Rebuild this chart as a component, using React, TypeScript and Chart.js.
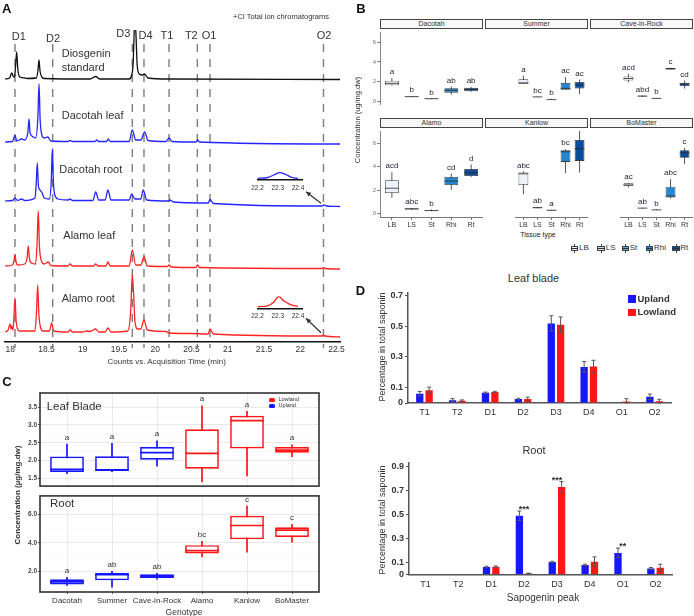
import React, { useEffect, useRef } from 'react';
import { Chart, registerables } from 'chart.js';
Chart.register(...registerables);

const FONT = '"Liberation Sans", Arial, Helvetica, sans-serif';

// ================= Panel A data =================
const peakLabelsA = ['D1', 'D2', 'D3', 'D4', 'T1', 'T2', 'O1', 'O2'];
const peakTimesA = [18.065, 18.585, 19.683, 19.844, 20.19, 20.58, 20.755, 22.32];
const xTicksA = [18, 18.5, 19, 19.5, 20, 20.5, 21, 21.5, 22, 22.5];
const traceNamesA = ['Diosgenin standard', 'Dacotah leaf', 'Dacotah root', 'Alamo leaf', 'Alamo root'];
const traceOffsetsA = [263, 200, 141, 76, 10];
const traceColorsA = ['#111111', '#2424ff', '#2424ff', '#ff2424', '#ff2424'];
const diosgeninStd = [
  [17.93, 0], [17.99, 1], [18.02, 6], [18.045, 2], [18.06, 3], [18.072, 12], [18.088, 27], [18.104, 10],
  [18.13, 2], [18.2, 1], [18.23, 0.5], [18.36, 1], [18.382, 9], [18.396, 19], [18.41, 8], [18.44, 1.5],
  [18.47, 0.5], [19.1, 0], [19.18, 2.5], [19.23, 0], [19.64, 0], [19.675, 4], [19.695, 16], [19.708, 45],
  [19.72, 62], [19.735, 42], [19.75, 14], [19.78, 5], [19.82, 4], [19.85, 5], [19.9, 1], [20.2, 0], [22.55, -0.5],
];
const dacotahLeaf = [
  [17.93, 0], [18.03, 0.5], [18.065, 6.5], [18.09, 1], [18.157, 3], [18.2, 2], [18.243, 10], [18.258, 23],
  [18.273, 9], [18.3, 6], [18.317, 5], [18.35, 4], [18.38, 24], [18.396, 58], [18.412, 22], [18.44, 6],
  [18.47, 4], [18.516, 5], [18.56, 1], [18.8, 0.5], [18.823, 1.5], [18.86, 0.5], [19.17, 0.5], [19.19, 2],
  [19.22, 0.5], [19.33, 0.5], [19.35, 3], [19.38, 0.5], [19.64, 0.5], [19.683, 12], [19.73, 2], [19.8, 2],
  [19.854, 10], [19.9, 1.5], [20.15, 0.5], [20.19, 4], [20.23, 0.5], [20.56, 0], [20.585, 2], [20.61, 0], [22.55, -2],
];
const dacotahRoot = [
  [17.93, 0], [18.03, 0.5], [18.065, 3], [18.1, 0.5], [18.157, 2], [18.2, 0.5], [18.34, 3], [18.357, 16],
  [18.372, 38], [18.388, 15], [18.41, 11], [18.433, 9], [18.47, 3], [18.54, 2], [18.565, 20], [18.58, 52],
  [18.595, 18], [18.62, 5], [18.66, 2], [18.8, 1], [18.823, 2], [18.86, 0.5], [19.14, 0.5], [19.178, 9],
  [19.22, 1], [19.31, 1], [19.345, 11], [19.39, 1], [19.64, 1], [19.674, 7], [19.72, 2], [19.8, 2],
  [19.834, 11], [19.88, 1], [20.19, 0], [20.2, 1], [20.25, -1], [20.73, -2], [20.755, 1.5], [20.8, -2.5],
  [22.3, -5], [22.33, -4], [22.36, -5], [22.55, -5.5],
];
const alamoLeaf = [
  [17.93, 0], [18.03, 1], [18.05, 5], [18.065, 11], [18.08, 4], [18.1, 1], [18.2, 2], [18.233, 9],
  [18.248, 20], [18.263, 8], [18.29, 3], [18.35, 2], [18.37, 24], [18.386, 55], [18.402, 20], [18.43, 5],
  [18.47, 2], [18.524, 4], [18.56, 0.5], [18.8, 0], [18.823, 2], [18.86, 0], [19.15, 0], [19.178, 2],
  [19.21, 0], [19.32, 0], [19.345, 4], [19.38, 0], [19.64, 0], [19.683, 16], [19.73, 1], [19.8, 1],
  [19.844, 9], [19.89, 0], [20.17, -0.5], [20.19, 1], [20.22, -1], [20.56, -1.5], [20.585, 1], [20.61, -1.5],
  [22.3, -2.5], [22.32, -1.5], [22.34, -2.5], [22.55, -3],
];
const alamoRoot = [
  [17.93, 0], [17.97, 2], [17.996, 8], [18.01, 3], [18.02, 6], [18.035, 2], [18.05, 14], [18.065, 34],
  [18.08, 12], [18.1, 3], [18.13, 1], [18.34, 1], [18.362, 20], [18.378, 47], [18.394, 18], [18.42, 4],
  [18.45, 1], [18.54, 1], [18.571, 9], [18.6, 1], [18.8, 0], [18.823, 2], [18.86, 0], [19.0, 0],
  [19.05, 1], [19.1, 0.5], [19.178, 3], [19.22, 0], [19.31, 0], [19.345, 4], [19.39, 0], [19.62, 1],
  [19.66, 20], [19.683, 57], [19.7, 40], [19.72, 10], [19.76, 3], [19.8, 3], [19.844, 12], [19.89, 2],
  [20.15, 0.5], [20.19, -1], [20.5, -1.5], [20.73, -2], [20.755, 3], [20.8, -2], [22.3, -4], [22.32, -3],
  [22.34, -4], [22.55, -5],
];
const insetTicksA = [22.2, 22.3, 22.4];
const insetDacotahRoot = [[22.2, 1.7], [22.25, 2.5], [22.28, 5], [22.31, 7.3], [22.34, 5.5], [22.37, 2.5], [22.4, 1.7]];
const insetAlamoRoot = [[22.2, 1.6], [22.25, 2.5], [22.28, 6], [22.305, 11.6], [22.33, 7.5], [22.36, 4], [22.4, 1.8]];
const insetArrowsA = [[22.286, 138.7, 22.079, 150.3], [22.286, 9.3, 22.079, 23.7]];
const dashTopA = 298;

// ================= Panel B data =================
const tissuesB = ['LB', 'LS', 'St', 'Rhi', 'Rt'];
const tissueColorsB = ['#eef1fa', '#c6dbef', '#5aa9dd', '#2586cf', '#0a4c9c'];
const genotypesB = ['Dacotah', 'Summer', 'Cave-in-Rock', 'Alamo', 'Kanlow', 'BoMaster'];
const yTicksB = [0, 2, 4, 6];
const dacotahB = [[1.58, 1.62, 1.81, 2.08, 2.35], [0.4, 0.42, 0.45, 0.47, 0.5], [0.2, 0.22, 0.24, 0.25, 0.27], [0.65, 0.86, 1.1, 1.32, 1.5], [0.95, 1.0, 1.18, 1.35, 1.45]];
const summerB = [[1.62, 1.62, 1.73, 2.08, 2.43], [0.36, 0.37, 0.38, 0.4, 0.41], [0.1, 0.11, 0.12, 0.13, 0.2], [1.08, 1.08, 1.2, 1.73, 2.27], [0.65, 1.19, 1.54, 1.81, 2.05]];
const caveB = [[1.78, 1.95, 2.15, 2.35, 2.6], [0.38, 0.42, 0.46, 0.5, 0.52], [0.22, 0.23, 0.24, 0.26, 0.28], [3.0, 3.02, 3.08, 3.15, 3.18], [1.19, 1.41, 1.6, 1.73, 1.95]];
const alamoB = [[1.34, 1.75, 2.16, 2.85, 3.53], [0.33, 0.36, 0.38, 0.45, 0.47], [0.2, 0.23, 0.25, 0.27, 0.35], [2.03, 2.44, 2.77, 3.12, 3.4], [3.12, 3.2, 3.48, 3.8, 4.2]];
const kanlowB = [[1.56, 2.3, 3.2, 3.31, 3.4], [0.4, 0.42, 0.45, 0.5, 0.52], [0.22, 0.23, 0.25, 0.27, 0.28], [3.26, 4.17, 4.99, 5.12, 5.2], [3.31, 4.25, 5.23, 5.94, 6.68]];
const boMasterB = [[2.1, 2.22, 2.3, 2.44, 2.45], [0.38, 0.4, 0.42, 0.43, 0.45], [0.25, 0.26, 0.28, 0.29, 0.32], [1.2, 1.29, 1.4, 2.16, 2.77], [4.0, 4.5, 4.9, 5.12, 5.3]];
const lettersDacotahB = ['a', 'b', 'b', 'ab', 'ab'];
const lettersSummerB = ['a', 'bc', 'b', 'ac', 'ac'];
const lettersCaveB = ['acd', 'abd', 'b', 'c', 'cd'];
const lettersAlamoB = ['acd', 'abc', 'b', 'cd', 'd'];
const lettersKanlowB = ['abc', 'ab', 'a', 'bc', 'c'];
const lettersBoMasterB = ['ac', 'ab', 'b', 'abc', 'c'];

// ================= Panel C data =================
const genotypesC = ['Dacotah', 'Summer', 'Cave-in-Rock', 'Alamo', 'Kanlow', 'BoMaster'];
const ecotypeC = ['Upland', 'Upland', 'Upland', 'Lowland', 'Lowland', 'Lowland'];
const leafBladeC = [[1.62, 1.68, 1.75, 2.11, 2.47], [1.68, 1.71, 1.73, 2.12, 2.49], [1.83, 2.02, 2.22, 2.38, 2.56], [1.39, 1.77, 2.2, 2.88, 3.55], [1.56, 2.34, 3.12, 3.26, 3.39], [2.1, 2.22, 2.29, 2.38, 2.45]];
const rootC = [[0.99, 1.08, 1.26, 1.45, 1.61], [0.87, 1.38, 1.77, 1.88, 2.02], [1.43, 1.54, 1.66, 1.79, 1.88], [2.99, 3.26, 3.45, 3.84, 4.14], [3.33, 4.26, 5.22, 5.91, 6.6], [4.02, 4.41, 4.9, 5.1, 5.33]];
const lettersLeafC = ['a', 'a', 'a', 'a', 'a', 'a'];
const lettersRootC = ['a', 'ab', 'ab', 'bc', 'c', 'c'];
const leafMajorC = [1.5, 2.0, 2.5, 3.0, 3.5];
const leafMinorC = [1.75, 2.25, 2.75, 3.25, 3.75];
const rootMajorC = [2, 4, 6];
const rootMinorC = [1, 3, 5, 7];

// ================= Panel D data =================
const peaksD = ['T1', 'T2', 'D1', 'D2', 'D3', 'D4', 'O1', 'O2'];
const uplandLeafD = [0.06, 0.018, 0.067, 0.026, 0.518, 0.235, 0, 0.04];
const uplandLeafErrD = [0.015, 0.01, 0.004, 0.005, 0.05, 0.035, 0, 0.018];
const lowlandLeafD = [0.083, 0.015, 0.072, 0.026, 0.51, 0.238, 0.01, 0.012];
const lowlandLeafErrD = [0.02, 0.005, 0.004, 0.012, 0.05, 0.04, 0.018, 0.012];
const uplandRootD = [0, 0, 0.062, 0.49, 0.105, 0.08, 0.18, 0.05];
const uplandRootErrD = [0, 0, 0.006, 0.04, 0.005, 0.006, 0.04, 0.008];
const lowlandRootD = [0, 0, 0.065, 0.009, 0.73, 0.107, 0, 0.056];
const lowlandRootErrD = [0, 0, 0.006, 0.002, 0.045, 0.04, 0, 0.03];
const leafStarsD = ['', '', '', '', '', '', '', ''];
const rootStarsD = ['', '', '', '***', '***', '', '**', ''];
const leafTicksD = [0, 0.1, 0.3, 0.5, 0.7];
const rootTicksD = [0, 0.1, 0.3, 0.5, 0.7, 0.9];

const BLUE = 'rgb(22,22,255)';
const RED = 'rgb(255,22,22)';

// ================= helpers =================
function ChartCanvas({ left, top, width, height, make }: any) {
  const ref = useRef<HTMLCanvasElement>(null);
  useEffect(() => {
    const ch = new Chart(ref.current as HTMLCanvasElement, make());
    return () => ch.destroy();
  }, []);
  return <canvas ref={ref} width={width} height={height} style={{ position: 'absolute', left, top, width, height }} />;
}

function Txt({ x, y, size = 10, weight = 400, color = '#333', anchor = 'middle', rotate = 0, children }: any) {
  const tx = anchor === 'middle' ? '-50%' : anchor === 'end' ? '-100%' : '0';
  return (
    <div style={{ position: 'absolute', left: x, top: y, transform: `translate(${tx},-50%) rotate(${rotate}deg)`, fontSize: size, fontWeight: weight, color, whiteSpace: 'nowrap', lineHeight: 1, fontFamily: FONT }}>
      {children}
    </div>
  );
}

const baseOpts = { responsive: false, animation: false, devicePixelRatio: 1 };
const noPlug = { legend: { display: false }, tooltip: { enabled: false } };

function boxPlugin(boxes: number[][], letters: string[], strokes: string[], lw: number, letterFont: string, letterColor: string, letterGap: number) {
  return {
    id: 'boxWhisker',
    beforeDatasetsDraw(chart: any) {
      const { ctx } = chart; const xs = chart.scales.x; const ys = chart.scales.y;
      ctx.save(); ctx.lineWidth = lw;
      boxes.forEach((b, i) => {
        const x = xs.getPixelForValue(i);
        ctx.strokeStyle = strokes[i];
        ctx.beginPath(); ctx.moveTo(x, ys.getPixelForValue(b[0])); ctx.lineTo(x, ys.getPixelForValue(b[4])); ctx.stroke();
      });
      ctx.restore();
    },
    afterDatasetsDraw(chart: any) {
      const { ctx } = chart; const xs = chart.scales.x; const ys = chart.scales.y;
      const meta = chart.getDatasetMeta(0);
      ctx.save(); ctx.lineWidth = lw;
      boxes.forEach((b, i) => {
        const bar = meta.data[i]; const half = bar.width / 2; const x = bar.x;
        const ym = ys.getPixelForValue(b[2]);
        ctx.strokeStyle = strokes[i];
        ctx.beginPath(); ctx.moveTo(x - half, ym); ctx.lineTo(x + half, ym); ctx.stroke();
      });
      ctx.fillStyle = letterColor; ctx.font = letterFont; ctx.textAlign = 'center'; ctx.textBaseline = 'middle';
      boxes.forEach((b, i) => ctx.fillText(letters[i], xs.getPixelForValue(i), ys.getPixelForValue(b[4]) - letterGap));
      ctx.restore();
    },
  };
}

// ================= Panel A =================
const aPlugin = {
  id: 'aDecor',
  beforeDatasetsDraw(chart: any) {
    const { ctx, chartArea } = chart; const xs = chart.scales.x; const ys = chart.scales.y;
    ctx.save(); ctx.strokeStyle = '#7c7c7c'; ctx.lineWidth = 1.4; ctx.setLineDash([8, 7]);
    peakTimesA.forEach((t) => {
      const x = xs.getPixelForValue(t);
      ctx.beginPath(); ctx.moveTo(x, ys.getPixelForValue(dashTopA)); ctx.lineTo(x, chartArea.bottom + 6); ctx.stroke();
    });
    ctx.restore();
  },
  afterDatasetsDraw(chart: any) {
    const { ctx } = chart; const xs = chart.scales.x; const ys = chart.scales.y;
    ctx.save(); ctx.strokeStyle = '#333'; ctx.fillStyle = '#333'; ctx.lineWidth = 1.2;
    insetArrowsA.forEach(([t0, v0, t1, v1]) => {
      const x0 = xs.getPixelForValue(t0), y0 = ys.getPixelForValue(v0);
      const x1 = xs.getPixelForValue(t1), y1 = ys.getPixelForValue(v1);
      ctx.beginPath(); ctx.moveTo(x0, y0); ctx.lineTo(x1, y1); ctx.stroke();
      const ang = Math.atan2(y1 - y0, x1 - x0); const L = 5.5;
      ctx.beginPath(); ctx.moveTo(x1, y1);
      ctx.lineTo(x1 - L * Math.cos(ang - 0.45), y1 - L * Math.sin(ang - 0.45));
      ctx.lineTo(x1 - L * Math.cos(ang + 0.45), y1 - L * Math.sin(ang + 0.45));
      ctx.closePath(); ctx.fill();
    });
    ctx.restore();
  },
};

function makeA() {
  const traces = [diosgeninStd, dacotahLeaf, dacotahRoot, alamoLeaf, alamoRoot];
  return {
    type: 'line',
    data: {
      datasets: traces.map((tr, k) => ({
        label: traceNamesA[k],
        data: tr.map(([t, h]) => ({ x: t, y: traceOffsetsA[k] + h })),
        borderColor: traceColorsA[k], borderWidth: 1.3, pointRadius: 0, cubicInterpolationMode: 'monotone', fill: false,
      })),
    },
    options: {
      ...baseOpts,
      layout: { padding: { left: 5, right: 8, top: 30, bottom: 0 } },
      plugins: noPlug,
      scales: {
        x: {
          type: 'linear', min: 17.927, max: 22.548,
          grid: { display: false, drawTicks: false },
          border: { display: true, color: '#111', width: 1.5 },
          afterBuildTicks: (s: any) => { s.ticks = xTicksA.map((v) => ({ value: v })); },
          afterFit: (s: any) => { s.height = 30; },
          ticks: { padding: 3, color: '#333', font: { family: FONT, size: 8.5 }, maxRotation: 0, autoSkip: false, callback: (v: any) => String(v) },
        },
        y: { display: false, min: 0, max: 312 },
      },
    },
    plugins: [aPlugin],
  };
}

function makeInset(data: number[][], color: string, padTop: number, tickPad: number, axisH: number) {
  return () => ({
    type: 'line',
    data: { datasets: [{ data: data.map(([t, v]) => ({ x: t, y: v })), borderColor: color, borderWidth: 1.3, pointRadius: 0, cubicInterpolationMode: 'monotone' }] },
    options: {
      ...baseOpts,
      layout: { padding: { left: 12.5, right: 9, top: padTop, bottom: 0 } },
      plugins: noPlug,
      scales: {
        x: {
          type: 'linear', min: 22.2, max: 22.42,
          grid: { display: false, drawTicks: false },
          border: { display: true, color: '#111', width: 1.6 },
          afterBuildTicks: (s: any) => { s.ticks = insetTicksA.map((v) => ({ value: v })); },
          afterFit: (s: any) => { s.height = axisH; },
          ticks: { padding: tickPad, color: '#333', font: { family: FONT, size: 6.5 }, maxRotation: 0, autoSkip: false, callback: (v: any) => v.toFixed(1) },
        },
        y: { display: false, min: 0, max: 12 },
      },
    },
  });
}

function PanelA() {
  const peakLabelPos = [[18.8, 36], [53, 38], [123.3, 32.5], [145.5, 34.5], [167, 35], [191.3, 35], [209, 35], [324, 35]];
  return (
    <>
      <ChartCanvas left={0} top={0} width={348} height={372} make={makeA} />
      <ChartCanvas left={245} top={166} width={66} height={27} make={makeInset(insetDacotahRoot, '#2424ff', 2, 4, 13)} />
      <ChartCanvas left={245} top={294} width={66} height={27} make={makeInset(insetAlamoRoot, '#ff2424', 2.3, 3.6, 12.7)} />
      <Txt x={6.7} y={8.3} size={13} weight={700} color="#111">A</Txt>
      <Txt x={281} y={17} size={7.5}>+CI Total ion chromatograms</Txt>
      {peakLabelsA.map((l, i) => <Txt key={l} x={peakLabelPos[i][0]} y={peakLabelPos[i][1]} size={11}>{l}</Txt>)}
      <Txt x={61.7} y={53} size={11} anchor="start">Diosgenin</Txt>
      <Txt x={61.7} y={67} size={11} anchor="start">standard</Txt>
      <Txt x={61.7} y={115} size={11} anchor="start">{traceNamesA[1]}</Txt>
      <Txt x={59.3} y={168.7} size={11} anchor="start">{traceNamesA[2]}</Txt>
      <Txt x={63.3} y={235} size={11} anchor="start">{traceNamesA[3]}</Txt>
      <Txt x={61.7} y={298} size={11} anchor="start">{traceNamesA[4]}</Txt>
      <Txt x={166.7} y={361.7} size={8}>Counts vs. Acquisition Time (min)</Txt>
    </>
  );
}

// ================= Panel B =================
function makeFacetB(boxes: number[][], letters: string[], showX: boolean, showY: boolean) {
  return () => ({
    type: 'bar',
    data: {
      datasets: [{
        data: boxes.map((b, i) => ({ x: i, y: [b[1], b[3]] })),
        backgroundColor: tissueColorsB, borderColor: '#3a3a3a', borderWidth: 0.8, borderSkipped: false,
        barPercentage: 0.7, categoryPercentage: 1,
      }],
    },
    options: {
      ...baseOpts,
      layout: { padding: 0 },
      plugins: noPlug,
      scales: {
        x: {
          type: 'linear', min: -0.6, max: 4.6, offset: false, display: showX,
          grid: { display: true, offset: false, drawOnChartArea: false, drawTicks: true, tickLength: 3, color: '#555', lineWidth: 0.8 },
          border: { display: true, color: '#555', width: 0.8 },
          afterBuildTicks: (s: any) => { s.ticks = tissuesB.map((_, i) => ({ value: i })); },
          afterFit: (s: any) => { s.height = 13; },
          ticks: { padding: 1, color: '#333', font: { family: FONT, size: 7 }, maxRotation: 0, autoSkip: false, callback: (v: any) => tissuesB[v] ?? '' },
        },
        y: {
          min: -0.3, max: 7, display: showY,
          grid: { display: true, drawOnChartArea: false, drawTicks: true, tickLength: 3, color: '#666', lineWidth: 0.8 },
          border: { display: true, color: '#666', width: 0.8 },
          afterBuildTicks: (s: any) => { s.ticks = yTicksB.map((v) => ({ value: v })); },
          afterFit: (s: any) => { s.width = 30; },
          ticks: { padding: 1, color: '#777', font: { family: FONT, size: 6 }, callback: (v: any) => String(v) },
        },
      },
    },
    plugins: [boxPlugin(boxes, letters, boxes.map(() => '#2a2a2a'), 0.8, `8px ${FONT}`, '#1c1c30', 6)],
  });
}

function PanelB() {
  const boxesAll = [dacotahB, summerB, caveB, alamoB, kanlowB, boMasterB];
  const lettersAll = [lettersDacotahB, lettersSummerB, lettersCaveB, lettersAlamoB, lettersKanlowB, lettersBoMasterB];
  const colLeft = [380, 485, 590];
  const rowTop = [28, 127];
  const rowH = [89, 90];
  const stripTop = [19, 118];
  const legendIconX = [570.7, 597.3, 621.7, 645.7, 672.3];
  const legendTextX = [579, 605.7, 629.7, 654, 680.3];
  return (
    <>
      {genotypesB.map((g, k) => {
        const row = Math.floor(k / 3); const col = k % 3;
        const left = colLeft[col] - (col === 0 ? 30 : 0);
        const width = 103 + (col === 0 ? 30 : 0);
        const height = rowH[row] + (row === 1 ? 13 : 0);
        return (
          <React.Fragment key={g}>
            <ChartCanvas left={left} top={rowTop[row]} width={width} height={height} make={makeFacetB(boxesAll[k], lettersAll[k], row === 1, col === 0)} />
            <div style={{ position: 'absolute', left: colLeft[col], top: stripTop[row], width: 103, height: 9.5, boxSizing: 'border-box', border: '1px solid #444', background: '#f7f7f7', fontSize: 7, lineHeight: '7.5px', textAlign: 'center', color: '#333', fontFamily: FONT }}>{g}</div>
          </React.Fragment>
        );
      })}
      <Txt x={361} y={8.3} size={13} weight={700} color="#111">B</Txt>
      <Txt x={358} y={120} size={7.5} rotate={-90}>Concentration (ug/mg.dw)</Txt>
      <Txt x={538} y={234.3} size={7} color="#222">Tissue type</Txt>
      {tissuesB.map((t, i) => (
        <React.Fragment key={t}>
          <div style={{ position: 'absolute', left: legendIconX[i] + 3.3, top: 243.8, width: 0.9, height: 9, background: '#444' }} />
          <div style={{ position: 'absolute', left: legendIconX[i], top: 245.5, width: 7.5, height: 5.6, boxSizing: 'border-box', border: '0.8px solid #444', background: tissueColorsB[i] }} />
          <div style={{ position: 'absolute', left: legendIconX[i], top: 247.9, width: 7.5, height: 0.8, background: '#333' }} />
          <Txt x={legendTextX[i]} y={248.3} size={8} anchor="start">{t}</Txt>
        </React.Fragment>
      ))}
    </>
  );
}

// ================= Panel C =================
const framePlugin = {
  id: 'frame',
  afterDraw(chart: any) {
    const { ctx, chartArea: a } = chart;
    ctx.save(); ctx.strokeStyle = '#333'; ctx.lineWidth = 1.6;
    ctx.strokeRect(a.left, a.top, a.right - a.left, a.bottom - a.top);
    ctx.restore();
  },
};

function makeC(boxes: number[][], letters: string[], yMin: number, yMax: number, majors: number[], minors: number[], showX: boolean, padTop: number, xH: number) {
  const strokes = ecotypeC.map((e) => (e === 'Upland' ? BLUE : RED));
  const isMajor = (v: number) => majors.some((m) => Math.abs(m - v) < 1e-6);
  return () => ({
    type: 'bar',
    data: {
      datasets: [{
        data: boxes.map((b, i) => ({ x: i, y: [b[1], b[3]] })),
        backgroundColor: '#ffffff', borderColor: strokes, borderWidth: 1.7, borderSkipped: false,
        barPercentage: 0.75, categoryPercentage: 1,
      }],
    },
    options: {
      ...baseOpts,
      layout: { padding: { left: 0, right: 11, top: padTop, bottom: 0 } },
      plugins: noPlug,
      scales: {
        x: {
          type: 'linear', min: -0.6, max: 5.6, offset: false,
          grid: { display: true, offset: false, color: '#e6e6e6', lineWidth: 0.8, drawTicks: showX, tickLength: 2, tickColor: '#333' },
          border: { display: false },
          afterBuildTicks: (s: any) => { s.ticks = genotypesC.map((_, i) => ({ value: i })); },
          afterFit: (s: any) => { s.height = xH; },
          ticks: { display: showX, padding: 2, color: '#333', font: { family: FONT, size: 8 }, maxRotation: 0, autoSkip: false, callback: (v: any) => genotypesC[v] ?? '' },
        },
        y: {
          min: yMin, max: yMax,
          grid: {
            display: true, drawTicks: true, tickLength: 2,
            color: (c: any) => (c.tick && isMajor(c.tick.value) ? '#e3e3e3' : '#f2f2f2'),
            lineWidth: (c: any) => (c.tick && isMajor(c.tick.value) ? 0.8 : 0.5),
            tickColor: (c: any) => (c.tick && isMajor(c.tick.value) ? '#333' : 'rgba(0,0,0,0)'),
          },
          border: { display: false },
          afterBuildTicks: (s: any) => { s.ticks = [...majors, ...minors].sort((a, b) => a - b).map((v) => ({ value: v })); },
          afterFit: (s: any) => { s.width = 40; },
          ticks: { padding: 1, color: '#444', font: { family: FONT, size: 6.5, weight: 'bold' }, autoSkip: false, callback: (v: any) => (isMajor(v) ? v.toFixed(1) : '') },
        },
      },
    },
    plugins: [boxPlugin(boxes, letters, strokes, 1.7, `8px ${FONT}`, '#333', 6.5), framePlugin],
  });
}

function PanelC() {
  return (
    <>
      <ChartCanvas left={0} top={385} width={330} height={106} make={makeC(leafBladeC, lettersLeafC, 1.28, 3.9, leafMajorC, leafMinorC, false, 8, 1)} />
      <ChartCanvas left={0} top={491} width={330} height={125} make={makeC(rootC, lettersRootC, 0.55, 7.3, rootMajorC, rootMinorC, true, 3, 24)} />
      <Txt x={7} y={381} size={13} weight={700} color="#111">C</Txt>
      <Txt x={46.7} y={406.7} size={11.5} anchor="start">Leaf Blade</Txt>
      <Txt x={50} y={504} size={11.5} anchor="start">Root</Txt>
      <div style={{ position: 'absolute', left: 269.3, top: 398.2, width: 5.8, height: 4.2, background: RED, borderRadius: 1.5 }} />
      <div style={{ position: 'absolute', left: 269.3, top: 404.2, width: 5.8, height: 4.2, background: BLUE, borderRadius: 1.5 }} />
      <Txt x={278.5} y={400.3} size={5.5} anchor="start">Lowland</Txt>
      <Txt x={278.5} y={406.3} size={5.5} anchor="start">Upland</Txt>
      <Txt x={18.3} y={495} size={8} weight={700} rotate={-90}>Concentration (µg/mg.dw)</Txt>
      <Txt x={184} y={611.7} size={8.5}>Genotype</Txt>
    </>
  );
}

// ================= Panel D =================
function errPlugin(errs: number[][], stars: string[]) {
  return {
    id: 'errStars',
    afterDatasetsDraw(chart: any) {
      const { ctx } = chart; const ys = chart.scales.y; const xs = chart.scales.x;
      ctx.save(); ctx.strokeStyle = '#555'; ctx.lineWidth = 1;
      chart.data.datasets.forEach((ds: any, di: number) => {
        const meta = chart.getDatasetMeta(di);
        meta.data.forEach((bar: any, i: number) => {
          const v = ds.data[i]; const e = errs[di][i];
          if (!e) return;
          const yt = ys.getPixelForValue(v + e), yb = ys.getPixelForValue(Math.max(0, v - e));
          ctx.beginPath();
          ctx.moveTo(bar.x, yt); ctx.lineTo(bar.x, yb);
          ctx.moveTo(bar.x - 2, yt); ctx.lineTo(bar.x + 2, yt);
          ctx.moveTo(bar.x - 2, yb); ctx.lineTo(bar.x + 2, yb);
          ctx.stroke();
        });
      });
      ctx.fillStyle = '#333'; ctx.font = `bold 9px ${FONT}`; ctx.textAlign = 'center'; ctx.textBaseline = 'alphabetic';
      stars.forEach((s, i) => {
        if (!s) return;
        const top = Math.max(...chart.data.datasets.map((ds: any, di: number) => ds.data[i] + errs[di][i]));
        ctx.fillText(s, xs.getPixelForValue(i), ys.getPixelForValue(top) + 1);
      });
      ctx.restore();
    },
  };
}

function makeD(up: number[], upErr: number[], low: number[], lowErr: number[], stars: string[], yMax: number, yTicks: number[], padTop: number, padRight: number, yW: number, xH: number, xPad: number) {
  return () => ({
    type: 'bar',
    data: {
      labels: peaksD,
      datasets: [
        { label: 'Upland', data: up, backgroundColor: BLUE, barPercentage: 0.78, categoryPercentage: 0.57 },
        { label: 'Lowland', data: low, backgroundColor: RED, barPercentage: 0.78, categoryPercentage: 0.57 },
      ],
    },
    options: {
      ...baseOpts,
      layout: { padding: { left: 0, right: padRight, top: padTop, bottom: 0 } },
      plugins: noPlug,
      scales: {
        x: {
          grid: { display: false, drawTicks: false },
          border: { display: true, color: '#555', width: 1.5 },
          afterFit: (s: any) => { s.height = xH; },
          ticks: { padding: xPad, color: '#333', font: { family: FONT, size: 9 }, maxRotation: 0, autoSkip: false },
        },
        y: {
          min: 0, max: yMax,
          grid: { display: true, drawOnChartArea: false, drawTicks: true, tickLength: 3, color: '#555' },
          border: { display: true, color: '#555', width: 1.5 },
          afterBuildTicks: (s: any) => { s.ticks = yTicks.map((v) => ({ value: v })); },
          afterFit: (s: any) => { s.width = yW; },
          ticks: { padding: 2, color: '#333', font: { family: FONT, size: 9, weight: 'bold' }, autoSkip: false, callback: (v: any) => String(v) },
        },
      },
    },
    plugins: [errPlugin([upErr, lowErr], stars)],
  });
}

function PanelD() {
  return (
    <>
      <ChartCanvas left={385} top={285} width={300} height={131} make={makeD(uplandLeafD, uplandLeafErrD, lowlandLeafD, lowlandLeafErrD, leafStarsD, 0.72, leafTicksD, 7, 14, 23, 13, 4)} />
      <ChartCanvas left={385} top={455} width={300} height={136} make={makeD(uplandRootD, uplandRootErrD, lowlandRootD, lowlandRootErrD, rootStarsD, 0.93, rootTicksD, 8.1, 13, 24, 16.5, 5)} />
      <Txt x={360.5} y={290} size={13} weight={700} color="#111">D</Txt>
      <Txt x={533.5} y={278} size={11}>Leaf blade</Txt>
      <Txt x={534} y={450} size={11}>Root</Txt>
      <Txt x={382.3} y={347} size={9} rotate={-90}>Percentage in total saponin</Txt>
      <Txt x={382.3} y={520} size={9} rotate={-90}>Percentage in total saponin</Txt>
      <Txt x={543} y={597.5} size={10}>Sapogenin peak</Txt>
      <div style={{ position: 'absolute', left: 628, top: 295, width: 7.5, height: 7.5, background: BLUE }} />
      <div style={{ position: 'absolute', left: 628, top: 308.5, width: 7.5, height: 7.5, background: RED }} />
      <Txt x={637.5} y={299} size={9.5} weight={700} anchor="start">Upland</Txt>
      <Txt x={637.5} y={312.3} size={9.5} weight={700} anchor="start">Lowland</Txt>
    </>
  );
}

export default function App() {
  useEffect(() => { document.body.style.margin = '0'; }, []);
  return (
    <div style={{ position: 'absolute', left: 0, top: 0, width: 694, height: 616, background: '#fff', overflow: 'hidden', fontFamily: FONT }}>
      <PanelA />
      <PanelB />
      <PanelC />
      <PanelD />
    </div>
  );
}
